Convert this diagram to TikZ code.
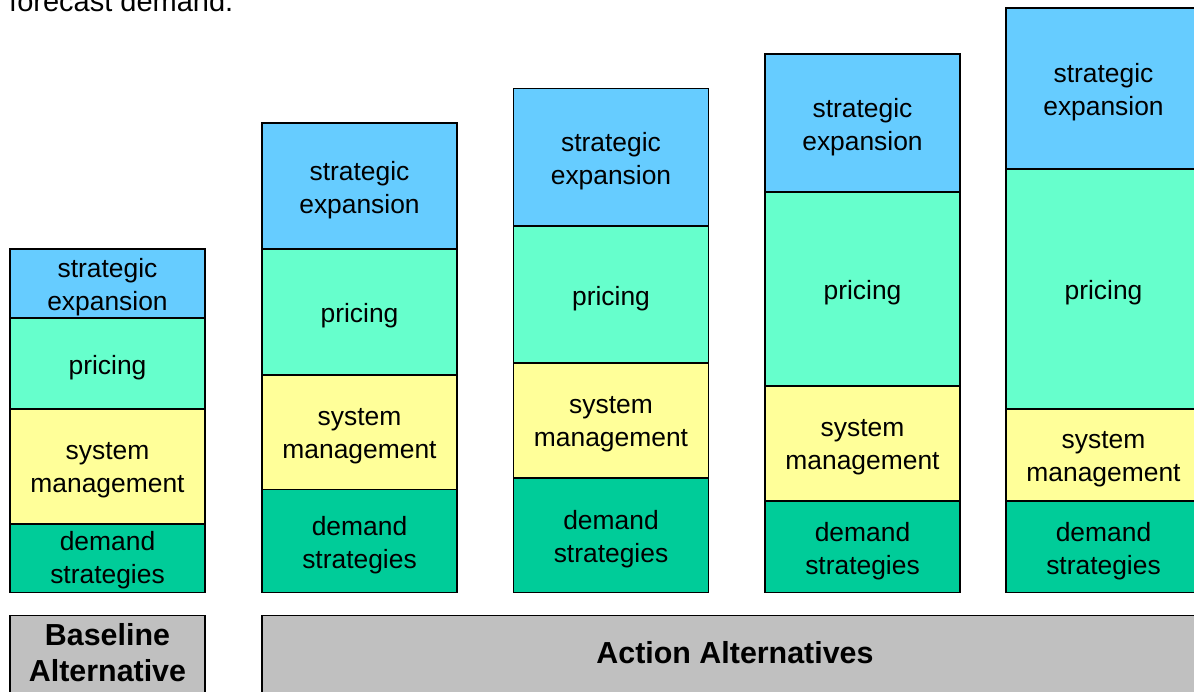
\documentclass[tikz,border=0pt]{standalone}
\usepackage{fontspec}
\setmainfont{Liberation Sans}
\definecolor{expblue}{RGB}{102,204,255}
\definecolor{pricegreen}{RGB}{102,255,204}
\definecolor{sysyellow}{RGB}{255,255,153}
\definecolor{demgreen}{RGB}{0,204,153}
\definecolor{altgray}{RGB}{192,192,192}
\begin{document}
\begin{tikzpicture}[x=1pt,y=-1pt,
  cell/.style={draw=black,line width=1.4pt,minimum width=195pt,inner sep=0pt},
  celltext/.style={inner sep=0pt,yshift=-4pt,align=center,font=\fontsize{26.4}{33}\selectfont},
  expansion/.style={cell,fill=expblue},
  pricing/.style={cell,fill=pricegreen},
  sysman/.style={cell,fill=sysyellow},
  demand/.style={cell,fill=demgreen},
  altbox/.style={draw=black,line width=1.4pt,fill=altgray,minimum height=110pt,anchor=north},
  alttext/.style={inner sep=0pt,align=center,font=\fontsize{30.4}{36}\selectfont\bfseries}]
\clip (0,0) rectangle (1194,692);
%TODO: sentence above is cut off by the page
\node[anchor=base west,inner sep=0pt,font=\fontsize{29}{34}\selectfont] (caption) at (9,12) {forecast demand.};
% baseline
\node[expansion,minimum height=69pt,label={[celltext]center:{strategic\\expansion}}] (SE_1) at (107.5,283.5) {};
\node[pricing,minimum height=91pt,label={[celltext]center:pricing}] (PR_1) at (107.5,363.5) {};
\node[sysman,minimum height=115pt,label={[celltext]center:{system\\management}}] (SM_1) at (107.5,466.5) {};
\node[demand,minimum height=68.5pt,label={[celltext,yshift=2pt]center:{demand\\strategies}}] (DS_1) at (107.5,558.25) {};
% action alternatives
\node[expansion,minimum height=126pt,label={[celltext]center:{strategic\\expansion}}] (SE_2) at (359.5,186) {};
\node[pricing,minimum height=126pt,label={[celltext]center:pricing}] (PR_2) at (359.5,312) {};
\node[sysman,minimum height=114.5pt,label={[celltext]center:{system\\management}}] (SM_2) at (359.5,432.25) {};
\node[demand,minimum height=103pt,label={[celltext]center:{demand\\strategies}}] (DS_2) at (359.5,541) {};
\node[expansion,minimum height=137.5pt,label={[celltext]center:{strategic\\expansion}}] (SE_3) at (611,157.25) {};
\node[pricing,minimum height=137pt,label={[celltext]center:pricing}] (PR_3) at (611,294.5) {};
\node[sysman,minimum height=115pt,label={[celltext]center:{system\\management}}] (SM_3) at (611,420.5) {};
\node[demand,minimum height=114.5pt,label={[celltext]center:{demand\\strategies}}] (DS_3) at (611,535.25) {};
\node[expansion,minimum height=138pt,label={[celltext]center:{strategic\\expansion}}] (SE_4) at (862.5,123) {};
\node[pricing,minimum height=194pt,label={[celltext]center:pricing}] (PR_4) at (862.5,289) {};
\node[sysman,minimum height=115pt,label={[celltext]center:{system\\management}}] (SM_4) at (862.5,443.5) {};
\node[demand,minimum height=91.5pt,label={[celltext]center:{demand\\strategies}}] (DS_4) at (862.5,546.75) {};
\node[expansion,minimum height=161pt,label={[celltext]center:{strategic\\expansion}}] (SE_5) at (1103.5,88.5) {};
\node[pricing,minimum height=240pt,label={[celltext]center:pricing}] (PR_5) at (1103.5,289) {};
\node[sysman,minimum height=92pt,label={[celltext]center:{system\\management}}] (SM_5) at (1103.5,455) {};
\node[demand,minimum height=91.5pt,label={[celltext]center:{demand\\strategies}}] (DS_5) at (1103.5,546.75) {};
% labels underneath
\node[altbox,minimum width=195pt] (baseline) at (107.5,615) {};
\node[alttext] (baseline text) at (107.5,653) {Baseline\\Alternative};
\node[altbox,minimum width=946pt] (action) at (735,615) {};
\node[alttext] (action text) at (735,653) {Action Alternatives};
\end{tikzpicture}
\end{document}
